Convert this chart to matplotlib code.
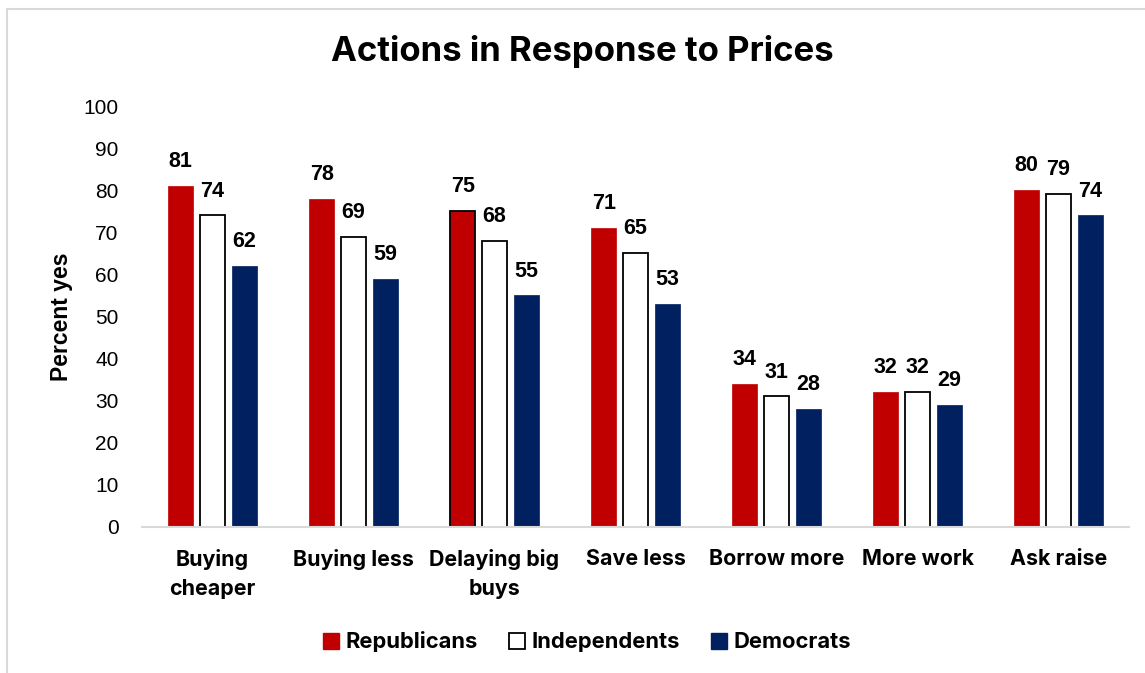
import matplotlib
matplotlib.use("Agg")
import matplotlib.pyplot as plt
import numpy as np
from matplotlib.patches import Rectangle, Patch

categories = ["Buying\ncheaper", "Buying less", "Delaying big\nbuys", "Save less",
              "Borrow more", "More work", "Ask raise"]
series_names = ["Republicans", "Independents", "Democrats"]
republicans = [81, 78, 75, 71, 34, 32, 80]
independents = [74, 69, 68, 65, 31, 32, 79]
democrats = [62, 59, 55, 53, 28, 29, 74]
y_ticks = [0, 10, 20, 30, 40, 50, 60, 70, 80, 90, 100]

RED = "#C00000"
NAVY = "#002060"
HEAD_FONT = ["Inter", "DejaVu Sans"]
NUM_FONT = ["Liberation Sans", "DejaVu Sans"]

fig = plt.figure(figsize=(11.45, 6.73), dpi=100)
fig.patches.append(Rectangle((7 / 1145, -0.05), 1.2, 1 - 9 / 673 + 0.05,
                             transform=fig.transFigure, fill=False,
                             edgecolor="#D9D9D9", linewidth=1.5))

ax = fig.add_axes([142 / 1145, 146 / 673, 987 / 1145, 421 / 673])

x = np.arange(len(categories))
step = 0.226
width = 0.176
styles = [
    dict(color=RED, edgecolor=RED, linewidth=0.5),
    dict(color="white", edgecolor="black", linewidth=1.3),
    dict(color=NAVY, edgecolor=NAVY, linewidth=0.5),
]
all_bars = []
for i, (vals, st) in enumerate(zip([republicans, independents, democrats], styles)):
    bars = ax.bar(x + (i - 1) * step, vals, width, zorder=3, **st)
    all_bars.append(bars)
    for b, v in zip(bars, vals):
        ax.text(b.get_x() + b.get_width() / 2, v + 4.5, f"{v}",
                ha="center", va="baseline", fontsize=15.5, fontweight="bold",
                family=NUM_FONT, color="black")

# outlined Republican bar in the "Delaying big buys" group
all_bars[0][2].set_edgecolor("black")
all_bars[0][2].set_linewidth(1.3)

ax.set_xlim(-0.5, len(categories) - 0.5)
ax.set_ylim(0, 100)
ax.set_yticks(y_ticks)
ax.set_yticklabels([str(t) for t in y_ticks], fontsize=15, family=NUM_FONT)
ax.set_xticks(x)
ax.set_xticklabels(categories, fontsize=15.4, fontweight="bold", family=HEAD_FONT,
                   linespacing=1.55)
ax.tick_params(axis="y", length=0, pad=17)
ax.tick_params(axis="x", length=0, pad=16)
for s in ["top", "right", "left"]:
    ax.spines[s].set_visible(False)
ax.spines["bottom"].set_color("#D9D9D9")
ax.spines["bottom"].set_linewidth(1.5)
ax.spines["bottom"].set_zorder(4)

ax.set_ylabel("Percent yes", fontsize=16.5, fontweight="bold", family=NUM_FONT)
ax.yaxis.set_label_coords(-69 / 987, 0.5)

fig.text(582 / 1145, 1 - 52 / 673, "Actions in Response to Prices",
         ha="center", va="center", fontsize=25, fontweight="bold", family=HEAD_FONT)

handles = [Patch(facecolor=RED, edgecolor=RED),
           Patch(facecolor="white", edgecolor="black", linewidth=1.3),
           Patch(facecolor=NAVY, edgecolor=NAVY)]
leg = fig.legend(handles, series_names, loc="center", ncol=3,
                 bbox_to_anchor=(587 / 1145, 1 - 642 / 673), frameon=False,
                 prop={"family": HEAD_FONT, "size": 15.8, "weight": "bold"},
                 handlelength=0.75, handleheight=0.75, handletextpad=0.3,
                 columnspacing=1.4)

fig.savefig("out.png", dpi=100)
